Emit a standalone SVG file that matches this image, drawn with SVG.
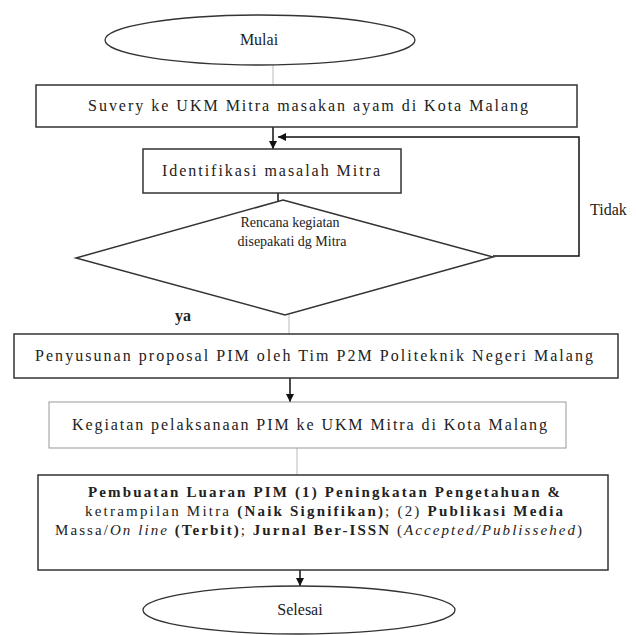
<svg xmlns="http://www.w3.org/2000/svg" width="636" height="635" viewBox="0 0 636 635">
<style>
.b{font-weight:bold;}
.i{font-style:italic;}
.box{fill:#fff;stroke:#333;stroke-width:1.5;}
.lbox{fill:#fff;stroke:#999;stroke-width:1;}
.ln{fill:none;stroke:#111;stroke-width:1.5;}
.fl{fill:none;stroke:#bbb;stroke-width:1;}
</style>
<defs>
<marker id="ah2" viewBox="0 0 10 10" refX="10" refY="5" markerWidth="8" markerHeight="8" orient="auto" markerUnits="userSpaceOnUse">
<path d="M0,0 L10,5 L0,10 z" fill="#111"/>
</marker>
</defs>
<rect width="636" height="635" fill="#fff"/>
<g font-family="Liberation Serif, Times New Roman, serif" font-size="16" fill="#222">
<g id="connectors">
<line class="fl" x1="273" y1="65" x2="273" y2="85"/>
<line class="ln" x1="273" y1="127" x2="273" y2="149" marker-end="url(#ah2)"/>
<polyline class="ln" points="493,256 579,256 579,137 278,137" marker-end="url(#ah2)"/>
<line class="ln" x1="278" y1="193" x2="278" y2="217" marker-end="url(#ah2)"/>
<line class="fl" x1="289" y1="315" x2="289" y2="334"/>
<line class="ln" x1="290" y1="378" x2="290" y2="402" marker-end="url(#ah2)"/>
<line class="fl" x1="297" y1="448" x2="297" y2="475"/>
<line class="ln" x1="300" y1="570" x2="300" y2="586" marker-end="url(#ah2)"/>
<text x="590" y="215" font-size="16">Tidak</text>
<text class="b" x="175" y="321">ya</text>
</g>
<g id="mulai">
<ellipse cx="260" cy="40" rx="155" ry="25" fill="#fff" stroke="#333" stroke-width="1.3"/>
<text x="259" y="45" text-anchor="middle">Mulai</text>
</g>
<g id="survey">
<rect class="box" x="36" y="85" width="541" height="42" stroke="#666"/>
<text x="88" y="111" textLength="440" lengthAdjust="spacing">Suvery ke UKM Mitra masakan ayam di Kota Malang</text>
</g>
<g id="identifikasi">
<rect class="box" x="143" y="149" width="258" height="44"/>
<text x="162" y="176" textLength="218" lengthAdjust="spacing">Identifikasi  masalah Mitra</text>
</g>
<g id="keputusan">
<polygon points="283,200 493,257 285,315 76,258" fill="#fff" stroke="#333" stroke-width="1.5"/>
<text x="290" y="227" text-anchor="middle" font-size="14">Rencana kegiatan</text>
<text x="292" y="246" text-anchor="middle" font-size="14">disepakati dg Mitra</text>
</g>
<g id="penyusunan">
<rect class="box" x="14" y="334" width="604" height="44"/>
<text x="35" y="361" textLength="558" lengthAdjust="spacing">Penyusunan proposal PIM oleh Tim P2M Politeknik Negeri Malang</text>
</g>
<g id="kegiatan">
<rect class="lbox" x="49" y="402" width="517" height="46"/>
<text x="72" y="430" textLength="475" lengthAdjust="spacing">Kegiatan pelaksanaan  PIM ke UKM Mitra di Kota Malang</text>
</g>
<g id="pembuatan" font-size="15">
<rect class="box" x="38" y="475" width="570" height="95"/>
<text class="b" x="88" y="497" textLength="472" lengthAdjust="spacing">Pembuatan  Luaran PIM (1) Peningkatan  Pengetahuan  &amp;</text>
<text x="85" y="516" textLength="478" lengthAdjust="spacing">ketrampilan Mitra <tspan class="b">(Naik Signifikan)</tspan>; (2) <tspan class="b">Publikasi Media</tspan></text>
<text x="55" y="535" textLength="527" lengthAdjust="spacing">Massa/<tspan class="i">On line</tspan> <tspan class="b">(Terbit)</tspan>; <tspan class="b">Jurnal  Ber-ISSN</tspan> (<tspan class="i">Accepted/Publissehed</tspan>)</text>
</g>
<g id="selesai">
<ellipse cx="299" cy="610" rx="156" ry="24" fill="#fff" stroke="#333" stroke-width="1.3"/>
<text x="300" y="615" text-anchor="middle">Selesai</text>
</g>
</g>
</svg>
